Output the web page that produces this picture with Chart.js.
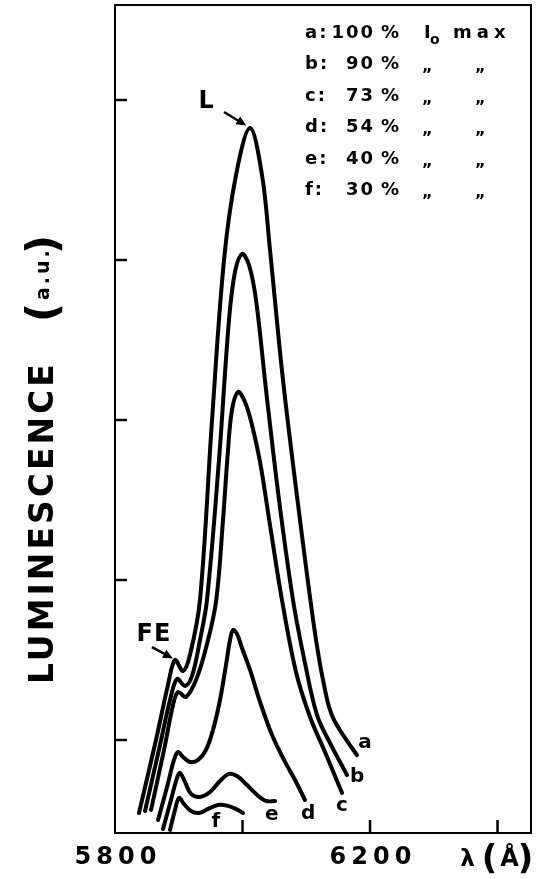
<!DOCTYPE html>
<html>
<head>
<meta charset="utf-8">
<script src="https://cdn.jsdelivr.net/npm/chart.js@4.4.1/dist/chart.umd.min.js"></script>
<style>
  html, body { margin: 0; padding: 0; background: #fff; }
  #wrap { width: 539px; height: 879px; position: relative; }
</style>
</head>
<body>
<div id="wrap"><canvas id="chart"></canvas></div>
<script>
// curve names and excitation intensity (% of Io max)
const curveNames = ["a", "b", "c", "d", "e", "f"];
const intensityPct = [100, 90, 73, 54, 40, 30];

// wavelength (Å) / luminescence (a.u.)
const waveA = [5837.6, 5864.3, 5883.1, 5894.1, 5906.7, 5917.6, 5933.3, 5952.2, 5971.0, 5989.8, 6011.8, 6030.6, 6043.1, 6063.5, 6090.2, 6115.3, 6131.0, 6142.0, 6160.8, 6179.6];
const lumA  = [5.44, 10.0, 13.44, 15.0, 14.31, 15.31, 18.75, 30.0, 40.0, 45.31, 48.25, 45.31, 40.63, 32.5, 23.75, 16.25, 12.81, 11.38, 10.13, 9.06];

const waveB = [5847.1, 5870.6, 5886.3, 5897.3, 5909.8, 5920.8, 5933.3, 5944.3, 5963.1, 5978.8, 5988.2, 5999.2, 6010.2, 6021.2, 6036.9, 6057.3, 6079.2, 6098.0, 6116.9, 6138.8, 6163.9];
const lumB  = [5.56, 9.69, 12.5, 13.81, 13.38, 14.0, 16.25, 18.75, 27.5, 36.25, 39.25, 40.38, 39.69, 37.5, 31.88, 25.0, 18.75, 14.81, 11.56, 9.69, 7.81];

const waveC = [5856.5, 5876.9, 5891.0, 5898.8, 5911.4, 5927.1, 5942.7, 5958.4, 5969.4, 5977.3, 5983.5, 5992.9, 6003.9, 6014.9, 6027.5, 6043.1, 6061.9, 6083.9, 6105.9, 6129.4, 6156.1];
const lumC  = [5.63, 9.38, 12.19, 13.0, 12.69, 13.75, 15.75, 18.63, 23.75, 28.13, 30.63, 31.75, 31.13, 29.69, 27.38, 23.44, 18.75, 14.25, 11.44, 9.25, 6.69];

const waveD = [5867.5, 5881.6, 5892.5, 5898.8, 5906.7, 5917.6, 5930.2, 5942.7, 5953.7, 5964.7, 5974.1, 5980.4, 5985.1, 5991.4, 5999.2, 6011.8, 6027.5, 6046.3, 6066.7, 6082.4, 6098.0];
const lumD  = [5.0, 7.06, 8.75, 9.25, 8.94, 8.63, 8.75, 9.38, 10.63, 12.5, 14.69, 16.25, 16.88, 16.63, 15.75, 14.38, 12.38, 10.31, 8.63, 7.5, 6.25];

const waveE = [5875.3, 5887.8, 5897.3, 5902.0, 5909.8, 5919.2, 5933.3, 5949.0, 5964.7, 5978.8, 5991.4, 6005.5, 6021.2, 6036.9, 6051.0];
const lumE  = [4.44, 6.25, 7.63, 7.94, 7.38, 6.63, 6.44, 6.75, 7.44, 7.88, 7.75, 7.25, 6.63, 6.19, 6.19];

const waveF = [5886.3, 5894.1, 5900.4, 5908.2, 5919.2, 5931.8, 5945.9, 5961.6, 5977.3, 5989.8, 6000.8];
const lumF  = [4.38, 5.63, 6.38, 6.0, 5.56, 5.44, 5.69, 5.94, 5.88, 5.69, 5.44];

// axes
const xTickValues = [5800, 6000, 6200, 6400];
const xTickLabels = ["5800", "", "6200", ""];
const yTickValues = [10, 20, 30, 40, 50];

// where the curve letters sit (Å, a.u.)
const labelWave = [6192, 6180, 6156, 6103, 6046, 5958];
const labelLum  = [9.8, 7.7, 5.9, 5.4, 5.3, 4.9];

const waves = [waveA, waveB, waveC, waveD, waveE, waveF];
const lums = [lumA, lumB, lumC, lumD, lumE, lumF];

const FONT = '"DejaVu Sans", sans-serif';

function arrow(ctx, x1, y1, x2, y2) {
  const a = Math.atan2(y2 - y1, x2 - x1);
  ctx.beginPath();
  ctx.moveTo(x1, y1);
  ctx.lineTo(x2 - 6 * Math.cos(a), y2 - 6 * Math.sin(a));
  ctx.stroke();
  ctx.beginPath();
  ctx.moveTo(x2, y2);
  ctx.lineTo(x2 - 10 * Math.cos(a) + 4.5 * Math.sin(a), y2 - 10 * Math.sin(a) - 4.5 * Math.cos(a));
  ctx.lineTo(x2 - 10 * Math.cos(a) - 4.5 * Math.sin(a), y2 - 10 * Math.sin(a) + 4.5 * Math.cos(a));
  ctx.closePath();
  ctx.fill();
}

const annotate = {
  id: "annotate",
  beforeDraw(chart) { chart.ctx.letterSpacing = "5px"; },
  beforeDatasetsDraw(chart) { chart.ctx.letterSpacing = "0px"; },
  afterDraw(chart) {
    const { ctx, chartArea: ca, scales } = chart;
    const x = scales.x, y = scales.y;
    ctx.save();
    ctx.strokeStyle = "#000";
    ctx.fillStyle = "#000";

    // frame
    ctx.lineWidth = 2;
    ctx.strokeRect(ca.left, ca.top, ca.right - ca.left, ca.bottom - ca.top);

    // inward ticks
    ctx.lineWidth = 2.5;
    yTickValues.forEach((v) => {
      const py = y.getPixelForValue(v);
      ctx.beginPath(); ctx.moveTo(ca.left, py); ctx.lineTo(ca.left + 12, py); ctx.stroke();
    });
    xTickValues.slice(1).forEach((v) => {
      const px = x.getPixelForValue(v);
      ctx.beginPath(); ctx.moveTo(px, ca.bottom); ctx.lineTo(px, ca.bottom - 13); ctx.stroke();
    });

    // λ (Å) under the last tick
    const lx = x.getPixelForValue(6400);
    ctx.letterSpacing = "0px";
    ctx.textAlign = "center";
    ctx.textBaseline = "alphabetic";
    ctx.font = "bold 23px " + FONT;
    ctx.fillText("λ", lx - 30, 866);
    ctx.font = "bold 24px " + FONT;
    ctx.fillText("Å", lx + 12, 866);
    ctx.font = "bold 34px " + FONT;
    ctx.fillText("(", lx - 8, 869);
    ctx.fillText(")", lx + 28, 869);

    // curve letters
    ctx.font = "bold 20px " + FONT;
    ctx.textBaseline = "middle";
    curveNames.forEach((n, i) => {
      ctx.fillText(n, x.getPixelForValue(labelWave[i]), y.getPixelForValue(labelLum[i]));
    });

    // L and FE markers
    ctx.font = "bold 24px " + FONT;
    ctx.fillText("L", x.getPixelForValue(5943), y.getPixelForValue(49.9));
    ctx.letterSpacing = "1px";
    ctx.fillText("FE", x.getPixelForValue(5861), y.getPixelForValue(16.6));
    ctx.lineWidth = 2.5;
    arrow(ctx, x.getPixelForValue(5971), y.getPixelForValue(49.25), x.getPixelForValue(6006), y.getPixelForValue(48.4));
    arrow(ctx, x.getPixelForValue(5858), y.getPixelForValue(15.8), x.getPixelForValue(5891), y.getPixelForValue(15.1));

    // legend block
    ctx.textBaseline = "alphabetic";
    ctx.font = "bold 18px " + FONT;
    curveNames.forEach((n, i) => {
      const by = 38 + i * 31.4;
      ctx.letterSpacing = "2px";
      ctx.textAlign = "left";
      ctx.fillText(n + ":", 305, by);
      ctx.textAlign = "right";
      ctx.fillText(String(intensityPct[i]), 375, by);
      ctx.textAlign = "left";
      ctx.fillText("%", 381, by);
      if (i === 0) {
        ctx.fillText("I", 424, by);
        ctx.font = "bold 14px " + FONT;
        ctx.fillText("o", 430, by + 6);
        ctx.font = "bold 18px " + FONT;
        ctx.letterSpacing = "5px";
        ctx.fillText("max", 453, by);
      } else {
        ctx.font = "bold 16px " + FONT;
        ctx.fillText("\u201E", 422, by + 2);
        ctx.fillText("\u201E", 475, by + 2);
        ctx.font = "bold 18px " + FONT;
      }
    });

    // y axis title
    ctx.translate(44, 684);
    ctx.rotate(-Math.PI / 2);
    ctx.textAlign = "left";
    ctx.textBaseline = "middle";
    ctx.font = "bold 33px " + FONT;
    ctx.letterSpacing = "3px";
    ctx.fillText("LUMINESCENCE", 0, 0);
    ctx.letterSpacing = "0px";
    ctx.font = "bold 42px " + FONT;
    ctx.fillText("(", 362, 2);
    ctx.fillText(")", 430, 2);
    ctx.font = "bold 19px " + FONT;
    ctx.letterSpacing = "3px";
    ctx.fillText("a.u.", 384, 0);
    ctx.restore();
  }
};

const datasets = curveNames.map((n, i) => ({
  label: n,
  data: waves[i].map((w, k) => ({ x: w, y: lums[i][k] })),
  borderColor: "#000",
  borderWidth: 4,
  pointRadius: 0,
  fill: false,
  tension: 0.35,
  borderCapStyle: "round",
  borderJoinStyle: "round",
}));

new Chart(document.getElementById("chart").getContext("2d"), {
  type: "line",
  data: { datasets },
  options: {
    responsive: true,
    maintainAspectRatio: false,
    animation: false,
    layout: { padding: { left: 115, top: 5, right: 8, bottom: 0 } },
    plugins: { legend: { display: false }, tooltip: { enabled: false } },
    scales: {
      x: {
        type: "linear",
        min: 5800,
        max: 6452.5,
        grid: { display: false, drawTicks: false },
        border: { display: false },
        afterBuildTicks: (s) => { s.ticks = xTickValues.map((v) => ({ value: v })); },
        afterFit: (s) => { s.height = 46; },
        ticks: {
          autoSkip: false,
          maxRotation: 0,
          padding: 10,
          labelOffset: 3,
          color: "#000",
          font: { family: FONT, size: 24, weight: "bold" },
          callback: (v) => xTickLabels[xTickValues.indexOf(v)] ?? "",
        },
      },
      y: {
        type: "linear",
        min: 4.1875,
        max: 55.9375,
        grid: { display: false, drawTicks: false },
        border: { display: false },
        afterBuildTicks: (s) => { s.ticks = yTickValues.map((v) => ({ value: v })); },
        afterFit: (s) => { s.width = 0; },
        ticks: { display: false },
      },
    },
  },
  plugins: [annotate],
});
</script>
</body>
</html>
